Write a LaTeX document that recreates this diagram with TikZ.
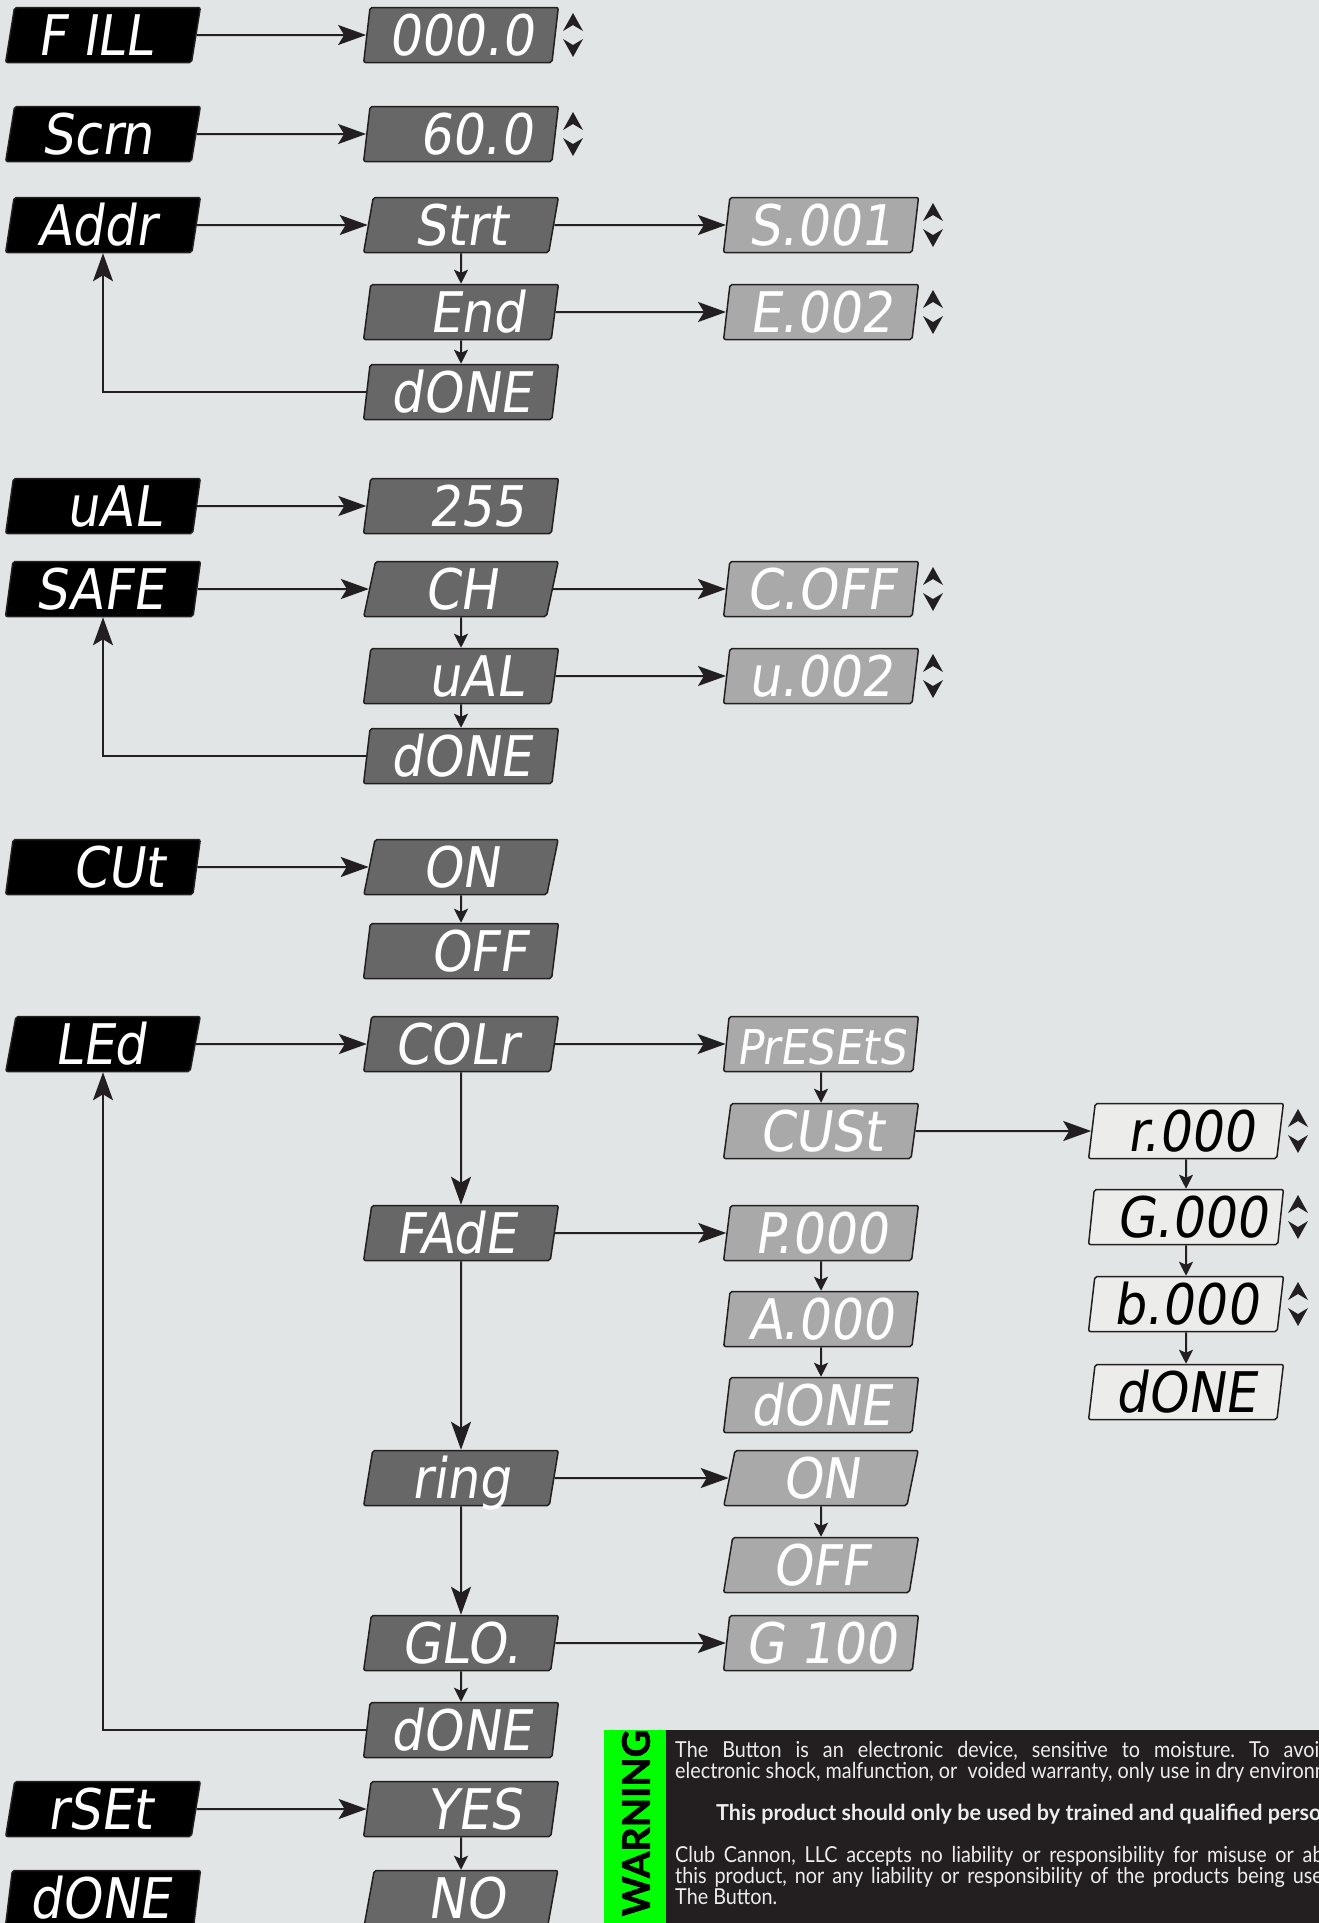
\documentclass[tikz,border=0pt]{standalone}
\usepackage{fontspec}
\setmainfont{Lato}
\newfontfamily\segfont{DejaVu Sans Condensed}[FakeSlant=0.15]
\newfontfamily\warnfont{Lato}[FakeStretch=0.9]
\newfontfamily\warnbfont{Lato}[FakeStretch=0.98]
\newfontfamily\heavyfont{Lato}[FakeBold=1.5]
\usetikzlibrary{shapes.geometric,arrows.meta}
\definecolor{bgc}{HTML}{E1E5E6}
\definecolor{boxB}{HTML}{666766}
\definecolor{boxC}{HTML}{A9A9AA}
\definecolor{boxD}{HTML}{ECECEA}
\definecolor{linec}{HTML}{231F20}
\definecolor{warnbg}{HTML}{231F20}
\definecolor{warngreen}{HTML}{00FF00}
\definecolor{warntext}{HTML}{EDEDED}
\tikzset{
  disp/.style={shape=trapezium, trapezium left angle=83, trapezium right angle=97,
    trapezium stretches=true, minimum width=195pt, minimum height=55pt, inner sep=0pt,
    draw=linec, line width=1.5pt, rounded corners=2pt, text height=41pt, text depth=0pt,
    font=\segfont\fontsize{56}{56}\selectfont},
  dispA/.style={disp, fill=black, text=white},
  dispB/.style={disp, fill=boxB, text=white},
  dispC/.style={disp, fill=boxC, text=white},
  dispD/.style={disp, fill=boxD, text=black},
  conn/.style={draw=linec, line width=2pt},
  bigarrow/.style={conn, -{Stealth[length=28pt,width=20pt,inset=6pt]}},
  smallarrow/.style={conn, -{Stealth[length=14pt,width=14pt,inset=3pt]}},
  wline/.style={anchor=base west, inner sep=0pt, text=warntext, font=\warnfont\fontsize{22}{22}\selectfont},
}
\newcommand\sx[2]{\hspace*{#1pt}#2}
\newcommand\updn[1]{%
  \begin{scope}[shift={(#1.center)}]
    \fill[linec] (112,-22) -- (122,-4) -- (112,-10) -- (102,-4) -- cycle;
    \fill[linec] (112,22) -- (122,4) -- (112,10) -- (102,4) -- cycle;
  \end{scope}}
\begin{document}
\frenchspacing
\begin{tikzpicture}[x=1pt,y=-1pt]
\useasboundingbox (0,0) rectangle (1319,1923);
\fill[bgc] (0,0) rectangle (1319,1923);

% column nodes
\node[dispA] (fill) at (103,35) {\sx{-16}{F ILL}};
\node[dispB] (v0000) at (461,35) {000.0};
\node[dispA] (scrn) at (103,134) {\sx{-12}{Scrn}};
\node[dispB] (v600) at (461,134) {\sx{30}{60.0}};
\node[dispA] (addr) at (103,225) {\sx{-12}{Addr}};
\node[dispB] (strt) at (461,225) {Strt};
\node[dispC] (s001) at (821,225) {S.001};
\node[dispB] (end) at (461,312) {\sx{32}{End}};
\node[dispC] (e002) at (821,312) {E.002};
\node[dispB] (done1) at (461,392) {dONE};
\node[dispA] (val1) at (103,506) {\sx{22}{uAL}};
\node[dispB] (v255) at (461,506) {\sx{32}{255}};
\node[dispA] (safe) at (103,589) {\sx{-6}{SAFE}};
\node[dispB] (ch) at (461,589) {CH};
\node[dispC] (coff) at (821,589) {C.OFF};
\node[dispB] (val2) at (461,676) {\sx{30}{uAL}};
\node[dispC] (u002) at (821,676) {u.002};
\node[dispB] (done2) at (461,756) {dONE};
\node[dispA] (cut) at (103,867) {\sx{30}{CUt}};
\node[dispB] (on1) at (461,867) {ON};
\node[dispB] (off1) at (461,951) {\sx{36}{OFF}};
\node[dispA] (led) at (103,1044) {\sx{-6}{LEd}};
\node[dispB] (colr) at (461,1044) {\sx{-10}{COLr}};
\node[dispC, font=\segfont\fontsize{48}{48}\selectfont] (pres) at (821,1044) {PrESEtS};
\node[dispC] (cust) at (821,1131) {CUSt};
\node[dispD] (r000) at (1186,1131) {\sx{10}{r.000}};
\node[dispD] (g000) at (1186,1217) {\sx{12}{G.000}};
\node[dispB] (fade) at (461,1233) {\sx{-10}{FAdE}};
\node[dispC] (p000) at (821,1233) {P.000};
\node[dispD] (b000) at (1186,1304) {b.000};
\node[dispC] (a000) at (821,1319) {A.000};
\node[dispD] (done4) at (1186,1392) {dONE};
\node[dispC] (done3) at (821,1405) {dONE};
\node[dispB] (ring) at (461,1478) {ring};
\node[dispC] (on2) at (821,1478) {ON};
\node[dispC] (off2) at (821,1565) {OFF};
\node[dispB] (glo) at (461,1643) {GLO.};
\node[dispC] (g100) at (821,1643) {G 100};
\node[dispB] (done5) at (461,1730) {dONE};
\node[dispA] (rset) at (103,1809) {\sx{-6}{rSEt}};
\node[dispB] (yes) at (461,1809) {\sx{26}{YES}};
\node[dispA] (done6) at (103,1898) {\sx{-6}{dONE}};
\node[dispB] (no) at (461,1898) {\sx{10}{NO}};

% up/down markers
\updn{v0000}\updn{v600}\updn{s001}\updn{e002}\updn{coff}\updn{u002}
\updn{r000}\updn{g000}\updn{b000}

% connectors
\draw[bigarrow] (fill) -- (v0000);
\draw[bigarrow] (scrn) -- (v600);
\draw[bigarrow] (addr) -- (strt);
\draw[bigarrow] (strt) -- (s001);
\draw[smallarrow] (strt) -- (end);
\draw[bigarrow] (end) -- (e002);
\draw[smallarrow] (end) -- (done1);
\draw[bigarrow] (done1.west) -| (addr.south);
\draw[bigarrow] (val1) -- (v255);
\draw[bigarrow] (safe) -- (ch);
\draw[bigarrow] (ch) -- (coff);
\draw[smallarrow] (ch) -- (val2);
\draw[bigarrow] (val2) -- (u002);
\draw[smallarrow] (val2) -- (done2);
\draw[bigarrow] (done2.west) -| (safe.south);
\draw[bigarrow] (cut) -- (on1);
\draw[smallarrow] (on1) -- (off1);
\draw[bigarrow] (led) -- (colr);
\draw[bigarrow] (colr) -- (pres);
\draw[smallarrow] (pres) -- (cust);
\draw[bigarrow] (cust) -- (r000);
\draw[smallarrow] (r000) -- (g000);
\draw[smallarrow] (g000) -- (b000);
\draw[smallarrow] (b000) -- (done4);
\draw[bigarrow] (colr) -- (fade);
\draw[bigarrow] (fade) -- (p000);
\draw[smallarrow] (p000) -- (a000);
\draw[smallarrow] (a000) -- (done3);
\draw[bigarrow] (fade) -- (ring);
\draw[bigarrow] (ring) -- (on2);
\draw[smallarrow] (on2) -- (off2);
\draw[bigarrow] (ring) -- (glo);
\draw[bigarrow] (glo) -- (g100);
\draw[smallarrow] (glo) -- (done5);
\draw[bigarrow] (done5.west) -| (led.south);
\draw[bigarrow] (rset) -- (yes);
\draw[smallarrow] (yes) -- (no);

% warning panel
\fill[warnbg] (604,1730) rectangle (1319,1923);
\fill[warngreen] (604,1730) rectangle (666,1923);
\node[rotate=90, inner sep=0pt, font=\heavyfont\bfseries\fontsize{38}{38}\selectfont, text=black] (warn) at (636,1823) {WARNING};
\begin{scope}
\clip (666,1730) rectangle (1319,1923);
\node[wline] (w1) at (675,1757) {\makebox[655pt][s]{The Button is an electronic device, sensitive to moisture. To avoid}};
\node[wline] (w2) at (675,1778) {electronic shock, malfunction, or\ \ voided warranty, only use in dry environments.};
\node[wline, font=\warnbfont\bfseries\fontsize{22}{22}\selectfont] (w3) at (716,1820) {This product should only be used by trained and qualified personnel.};
\node[wline] (w4) at (675,1862) {\makebox[705pt][s]{Club Cannon, LLC accepts no liability or responsibility for misuse or abuse of}};
\node[wline] (w5) at (675,1883) {\makebox[705pt][s]{this product, nor any liability or responsibility of the products being used with}};
\node[wline] (w6) at (675,1904) {The Button.};
\end{scope}
\end{tikzpicture}
\end{document}
